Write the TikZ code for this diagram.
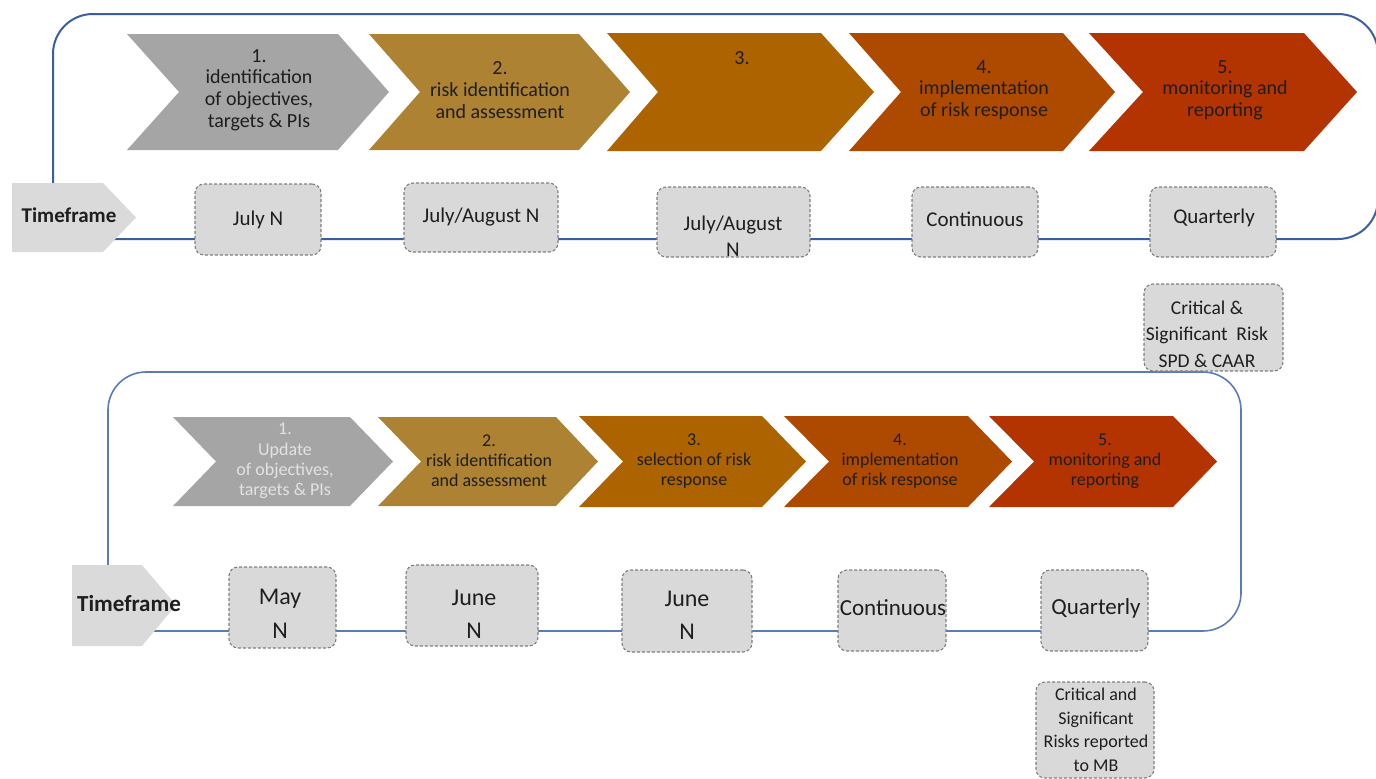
\documentclass[tikz,border=0pt]{standalone}
\usepackage{fontspec}
\setmainfont{Carlito}
\definecolor{cA}{HTML}{A5A5A5}
\definecolor{cB}{HTML}{AD8232}
\definecolor{cC}{HTML}{AD6400}
\definecolor{cD}{HTML}{AE4A00}
\definecolor{cE}{HTML}{B33400}
\definecolor{lineA}{HTML}{3A5F9E}
\definecolor{lineB}{HTML}{5A7CB6}
\definecolor{boxfill}{HTML}{D9D9D9}
\definecolor{boxborder}{HTML}{7F7F7F}
\definecolor{tffill}{HTML}{DADADA}
\definecolor{txt}{HTML}{1E1E1E}
\definecolor{lighttxt}{HTML}{E2E2E2}
\newcommand\mychev[7]{\fill[#7] (#1,#2) -- (#4,#2) -- (#5,{(#2+#3)/2}) -- (#4,#3) -- (#1,#3) -- (#6,{(#2+#3)/2}) -- cycle;}
\tikzset{
  frameA/.style={draw=lineA, line width=2pt, rounded corners=40pt},
  frameB/.style={draw=lineB, line width=1.6pt, rounded corners=38pt},
  datebox/.style={draw=boxborder, fill=boxfill, dash pattern=on 3pt off 2pt, line width=1.1pt, rounded corners=9pt, inner sep=0pt},
  toptxt/.style={align=center, text=txt, inner sep=0pt, font=\fontsize{20}{21.6}\selectfont},
  bottxt/.style={align=center, text=txt, inner sep=0pt, font=\fontsize{18}{20.2}\selectfont},
  datetxt/.style={align=center, text=txt, inner sep=0pt},
}
\begin{document}
\begin{tikzpicture}[x=1pt,y=-1pt]
\useasboundingbox (0,0) rectangle (1376,779);
% frames
\draw[frameA] (53,14) rectangle (1378,239);
\draw[frameB] (108,372) rectangle (1241,631);
% top chevrons
\mychev{127}{34}{150}{338}{389}{179}{cA}
\mychev{369}{34}{150}{579}{630}{420}{cB}
\mychev{607}{33}{151}{821}{874}{658}{cC}
\mychev{849}{33}{151}{1063}{1115}{901}{cD}
\mychev{1089}{33}{151}{1304}{1357}{1143}{cE}
\node[toptxt] (ta) at (259,90) {1.\\identification\\of objectives,\\targets \& PIs};
\node[toptxt] (tb) at (500,90) {2.\\risk identification\\and assessment};
\node[toptxt] (tc) at (742,58) {3.};
\node[toptxt] (td) at (984,90) {4.\\implementation\\of risk response};
\node[toptxt] (te) at (1225,90) {5.\\monitoring and\\reporting};
% bottom chevrons
\mychev{173}{417}{506}{350}{393}{216}{cA}
\mychev{378}{417}{506}{556}{598}{421}{cB}
\mychev{579}{416}{507}{762}{806}{623}{cC}
\mychev{784}{416}{507}{968}{1012}{829}{cD}
\mychev{989}{416}{507}{1173}{1217}{1034}{cE}
\node[bottxt, text=lighttxt] (ba) at (285,461) {1.\\Update\\of objectives,\\targets \& PIs};
\node[bottxt] (bb) at (489,461) {2.\\risk identification\\and assessment};
\node[bottxt] (bc) at (694,461) {3.\\selection of risk\\response};
\node[bottxt] (bd) at (900,461) {4.\\implementation\\of risk response};
\node[bottxt] (be) at (1105,461) {5.\\monitoring and\\reporting};
% timeframe arrows
\fill[tffill] (12,183) -- (103,183) -- (136,217.5) -- (103,252) -- (12,252) -- cycle;
\node[datetxt, font=\fontsize{21}{24}\selectfont\bfseries] (tfa) at (69,215) {Timeframe};
\fill[tffill] (72,565) -- (142,565) -- (176,605) -- (142,646) -- (72,646) -- cycle;
\node[datetxt, font=\fontsize{23}{26}\selectfont\bfseries] (tfb) at (129,604) {Timeframe};
% top date boxes
\node[datebox, minimum width=126pt, minimum height=71pt] (d1) at (258,219.5) {};
\node[datebox, minimum width=154pt, minimum height=69pt] (d2) at (481,217.5) {};
\node[datebox, minimum width=153pt, minimum height=70pt] (d3) at (733.5,222) {};
\node[datebox, minimum width=126pt, minimum height=70pt] (d4) at (975,222) {};
\node[datebox, minimum width=126pt, minimum height=70pt] (d5) at (1213,222) {};
\node[datetxt, font=\fontsize{21}{26}\selectfont] (d1t) at (258,220) {July N};
\node[datetxt, font=\fontsize{21}{26}\selectfont] (d2t) at (481,217) {July/August N};
\node[datetxt, font=\fontsize{21}{26}\selectfont] (d3t) at (733,236) {July/August\\N};
\node[datetxt, font=\fontsize{21}{26}\selectfont] (d4t) at (975,219) {Continuous};
\node[datetxt, font=\fontsize{21}{26}\selectfont] (d5t) at (1214,218) {Quarterly};
\node[datebox, minimum width=139pt, minimum height=87pt] (c1) at (1213.5,327.5) {};
\node[datetxt, font=\fontsize{19.5}{26.5}\selectfont] (c1t) at (1207,334) {Critical \&\\Significant\ \ Risk\\SPD \& CAAR};
% bottom date boxes
\node[datebox, minimum width=107pt, minimum height=81pt] (e1) at (282.5,607.5) {};
\node[datebox, minimum width=132pt, minimum height=81pt] (e2) at (472,605.5) {};
\node[datebox, minimum width=130pt, minimum height=82pt] (e3) at (687,611) {};
\node[datebox, minimum width=108pt, minimum height=81pt] (e4) at (892,610.5) {};
\node[datebox, minimum width=107pt, minimum height=81pt] (e5) at (1094.5,610.5) {};
\node[datetxt, font=\fontsize{24}{34}\selectfont] (e1t) at (280,614) {May\\N};
\node[datetxt, font=\fontsize{24}{33}\selectfont] (e2t) at (474,614) {June\\N};
\node[datetxt, font=\fontsize{24}{33}\selectfont] (e3t) at (687,615) {June\\N};
\node[datetxt, font=\fontsize{23}{26}\selectfont] (e4t) at (893,608) {Continuous};
\node[datetxt, font=\fontsize{23}{26}\selectfont] (e5t) at (1096,608) {Quarterly};
\node[datebox, minimum width=118pt, minimum height=96pt] (c2) at (1095,730) {};
\node[datetxt, font=\fontsize{18}{23.6}\selectfont] (c2t) at (1096,730) {Critical and\\Significant\\Risks reported\\to MB};
\end{tikzpicture}
\end{document}
